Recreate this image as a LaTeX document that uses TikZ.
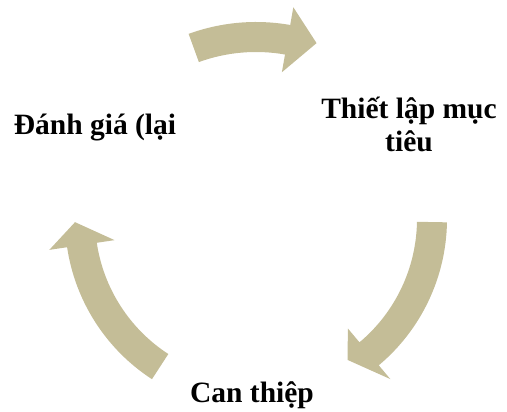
\documentclass[tikz,border=0pt]{standalone}
\usepackage{fontspec}
\setmainfont{Liberation Serif}
\definecolor{arrowtan}{HTML}{C4BD97}

\begin{document}
\begin{tikzpicture}[x=1pt, y=1pt, cyclearrow/.style={fill=arrowtan, draw=none}, steplabel/.style={font=\fontsize{29.5}{33}\selectfont\bfseries, align=center, inner sep=0pt}]
			\useasboundingbox (0,0) rectangle (507,412);
			\coordinate (c) at (256,193);
			\foreach \s/\b/\t/\r/\m in {110/80/71/186/182, -1/-50/-57/168/176, 237/188.5/181/181/176}
				\fill[cyclearrow, shift={(c)}] (\s:{\m+15}) arc[start angle=\s, end angle=\b, radius={\m+15}] -- (\b:{\m+33}) -- (\t:\r) -- (\b:{\m-33}) -- (\b:{\m-15}) arc[start angle=\b, end angle=\s, radius={\m-15}] -- cycle;
			\node[steplabel] (eval) at (95,284) {Đánh giá (lại};
			\node[steplabel] (goal) at (409,288) {Thiết lập mục\\tiêu};
			\node[steplabel] (act) at (252,17) {Can thiệp};
			\end{tikzpicture}
\end{document}
